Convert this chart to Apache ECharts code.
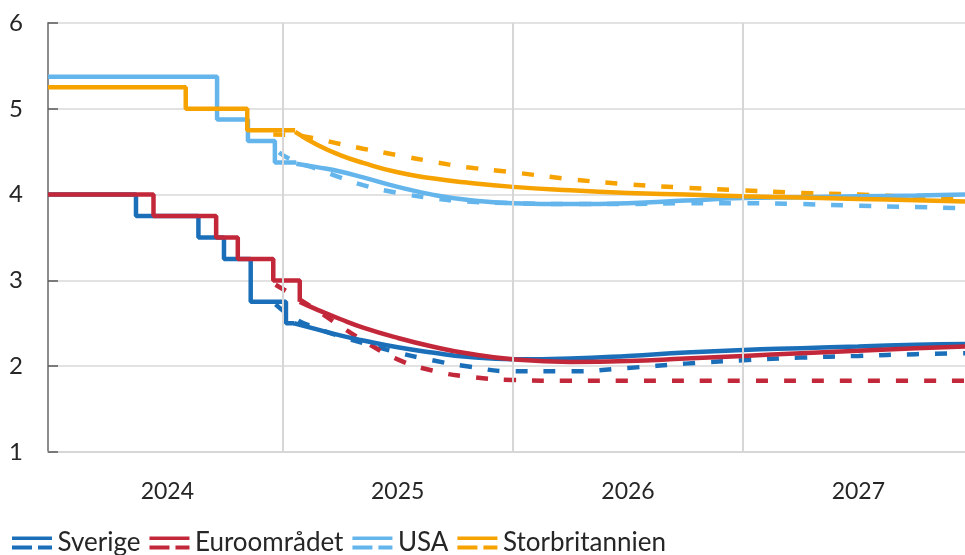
<!DOCTYPE html>
<html>
<head>
<meta charset="utf-8">
<script src="https://cdn.jsdelivr.net/npm/echarts@6/dist/echarts.min.js"></script>
<style>html,body{margin:0;padding:0;background:#fff}#c{width:965px;height:555px}</style>
</head>
<body>
<div id="c"></div>
<script>
// ---- Axis ranges / ticks ----
const xMin = 2023.982, xMax = 2027.963;
const yearGridLines = [2025, 2026, 2027];
const yearLabelPos = [2024.5, 2025.5, 2026.5, 2027.5];
const yMin = 1, yMax = 6, yStep = 1;

// ---- Sverige ----
const sweHistX = [2023.982, 2024.364, 2024.635, 2024.746, 2024.862, 2025.015, 2025.05];
const sweHistY = [4.0, 3.75, 3.5, 3.25, 2.75, 2.5, 2.5];
const sweFcX = [2025.05, 2025.15, 2025.25, 2025.35, 2025.5, 2025.65, 2025.8, 2026.0, 2026.25, 2026.5, 2026.75, 2027.0, 2027.25, 2027.5, 2027.75, 2027.963];
const sweFcY = [2.5, 2.43, 2.36, 2.3, 2.22, 2.16, 2.11, 2.08, 2.09, 2.12, 2.16, 2.19, 2.21, 2.23, 2.25, 2.26];
const sweDashX = [2024.97, 2025.05, 2025.15, 2025.25, 2025.35, 2025.5, 2025.65, 2025.8, 2026.0, 2026.25, 2026.5, 2026.75, 2027.0, 2027.25, 2027.5, 2027.75, 2027.963];
const sweDashY = [2.72, 2.56, 2.44, 2.35, 2.27, 2.16, 2.07, 2.0, 1.94, 1.94, 1.98, 2.03, 2.07, 2.1, 2.12, 2.14, 2.15];

// ---- Euroområdet ----
const euHistX = [2023.982, 2024.44, 2024.712, 2024.806, 2024.96, 2025.075];
const euHistY = [4.0, 3.75, 3.5, 3.25, 3.0, 2.75];
const euFcX = [2025.075, 2025.15, 2025.25, 2025.35, 2025.5, 2025.65, 2025.8, 2026.0, 2026.25, 2026.5, 2026.75, 2027.0, 2027.25, 2027.5, 2027.75, 2027.963];
const euFcY = [2.75, 2.66, 2.55, 2.45, 2.33, 2.23, 2.15, 2.08, 2.05, 2.06, 2.09, 2.12, 2.15, 2.18, 2.21, 2.23];
const euDashX = [2024.97, 2025.05, 2025.15, 2025.25, 2025.35, 2025.5, 2025.65, 2025.8, 2026.0, 2026.25, 2026.5, 2027.0, 2027.5, 2027.963];
const euDashY = [2.95, 2.82, 2.65, 2.47, 2.3, 2.08, 1.95, 1.88, 1.84, 1.83, 1.83, 1.83, 1.83, 1.83];

// ---- USA ----
const usHistX = [2023.982, 2024.716, 2024.85, 2024.967, 2025.06];
const usHistY = [5.375, 4.875, 4.625, 4.375, 4.375];
const usFcX = [2025.06, 2025.15, 2025.25, 2025.35, 2025.5, 2025.65, 2025.8, 2026.0, 2026.25, 2026.5, 2026.75, 2027.0, 2027.25, 2027.5, 2027.75, 2027.963];
const usFcY = [4.36, 4.32, 4.27, 4.2, 4.09, 4.0, 3.94, 3.9, 3.89, 3.9, 3.93, 3.96, 3.97, 3.98, 3.99, 4.0];
const usDashX = [2024.985, 2025.05, 2025.15, 2025.25, 2025.35, 2025.5, 2025.65, 2025.8, 2026.0, 2026.25, 2026.5, 2026.75, 2027.0, 2027.25, 2027.5, 2027.75, 2027.963];
const usDashY = [4.49, 4.39, 4.3, 4.2, 4.11, 4.02, 3.96, 3.92, 3.9, 3.89, 3.89, 3.9, 3.9, 3.89, 3.87, 3.855, 3.84];

// ---- Storbritannien ----
const ukHistX = [2023.982, 2024.58, 2024.847, 2025.055];
const ukHistY = [5.25, 5.0, 4.75, 4.75];
const ukFcX = [2025.055, 2025.15, 2025.25, 2025.35, 2025.5, 2025.65, 2025.8, 2026.0, 2026.25, 2026.5, 2026.75, 2027.0, 2027.25, 2027.5, 2027.75, 2027.963];
const ukFcY = [4.73, 4.58, 4.46, 4.37, 4.26, 4.19, 4.14, 4.09, 4.05, 4.02, 4.0, 3.98, 3.965, 3.95, 3.935, 3.92];
const ukDashX = [2024.96, 2025.05, 2025.15, 2025.25, 2025.35, 2025.5, 2025.65, 2025.8, 2026.0, 2026.25, 2026.5, 2026.75, 2027.0, 2027.25, 2027.5, 2027.75, 2027.963];
const ukDashY = [4.70, 4.69, 4.65, 4.59, 4.535, 4.46, 4.385, 4.32, 4.26, 4.18, 4.12, 4.08, 4.05, 4.02, 4.0, 3.97, 3.95];

const names = ['Sverige', 'Euroområdet', 'USA', 'Storbritannien'];
const colors = ['#1b6fb9', '#c3283a', '#63b5ec', '#f6a200'];

function pts(xs, ys) { return xs.map((x, i) => [x, ys[i]]); }
function hist(name, color, xs, ys) {
  return { name, type: 'line', step: 'end', data: pts(xs, ys), symbol: 'none', showSymbol: false,
    lineStyle: { color, width: 4.5 }, itemStyle: { color }, z: 3 };
}
function fc(name, color, xs, ys, dashed) {
  return { name, type: 'line', smooth: 0.5, data: pts(xs, ys), symbol: 'none', showSymbol: false,
    lineStyle: { color, width: 4.5, type: dashed ? [12, 16] : 'solid', cap: 'butt' }, itemStyle: { color }, z: dashed ? 3 : 4 };
}

const FONT = 'Lato, "Open Sans", sans-serif';
const chart = echarts.init(document.getElementById('c'), null, { renderer: 'canvas' });
chart.setOption({
  animation: false,
  backgroundColor: '#ffffff',
  grid: { left: 48, right: 0, top: 23, bottom: 103 },
  legend: {
    data: names,
    left: 12, top: 530, padding: 0,
    icon: 'path://M0,0H40V3.5H0Z M0,9H20V13H0Z M26,9H40V13H26Z',
    itemWidth: 41, itemHeight: 13, itemGap: 9,
    itemStyle: { borderWidth: 0 },
    textStyle: { fontFamily: FONT, fontSize: 26, color: '#262626' }
  },
  xAxis: {
    type: 'value', min: xMin, max: xMax,
    axisLine: { show: true, lineStyle: { color: '#d6d6d6', width: 2 } },
    axisTick: { show: false },
    splitLine: { show: false },
    axisLabel: {
      customValues: yearLabelPos,
      formatter: v => String(Math.floor(v)),
      fontFamily: FONT, fontSize: 23, color: '#262626', margin: 28
    }
  },
  yAxis: {
    type: 'value', min: yMin, max: yMax, interval: yStep,
    axisLine: { show: true, lineStyle: { color: '#8c8c8c', width: 2 } },
    axisTick: { show: true, inside: true, length: 10, lineStyle: { color: '#595959', width: 1.5 } },
    splitLine: { show: true, lineStyle: { color: '#d9d9d9', width: 1.5 } },
    axisLabel: { fontFamily: FONT, fontSize: 24, color: '#262626', margin: 25 }
  },
  series: [
    { type: 'line', data: [], z: 1, silent: true,
      markLine: { silent: true, symbol: ['none', 'none'], label: { show: false },
        lineStyle: { color: '#d6d6d6', width: 2, type: 'solid' },
        data: yearGridLines.map(v => ({ xAxis: v })) } },
    hist(names[0], colors[0], sweHistX, sweHistY),
    hist(names[1], colors[1], euHistX, euHistY),
    hist(names[2], colors[2], usHistX, usHistY),
    hist(names[3], colors[3], ukHistX, ukHistY),
    fc(names[2], colors[2], usDashX, usDashY, true),
    fc(names[3], colors[3], ukDashX, ukDashY, true),
    fc(names[0], colors[0], sweDashX, sweDashY, true),
    fc(names[1], colors[1], euDashX, euDashY, true),
    fc(names[2], colors[2], usFcX, usFcY, false),
    fc(names[3], colors[3], ukFcX, ukFcY, false),
    fc(names[0], colors[0], sweFcX, sweFcY, false),
    fc(names[1], colors[1], euFcX, euFcY, false)
  ]
});
</script>
</body>
</html>
